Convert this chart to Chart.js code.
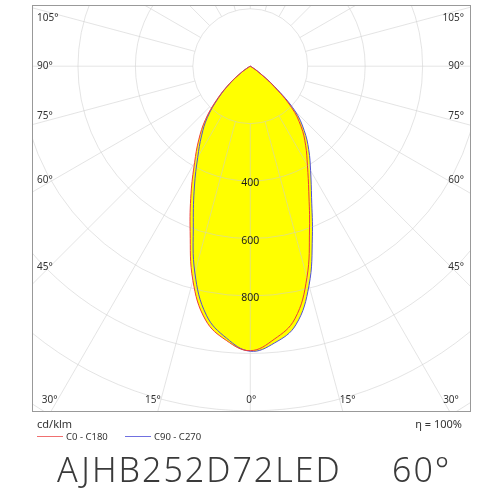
<!DOCTYPE html>
<html>
<head>
<meta charset="utf-8">
<script src="https://cdn.jsdelivr.net/npm/chart.js@4.4.0/dist/chart.umd.min.js"></script>
<style>
  html, body { margin: 0; padding: 0; background: #fff; }
  #wrap { width: 500px; height: 500px; }
</style>
</head>
<body>
<div id="wrap"><canvas id="chart"></canvas></div>
<script>
// gamma angles, degrees from nadir
var gammaAngles = [0, 5, 10, 15, 20, 25, 30, 35, 40, 45, 50, 55, 60, 65, 70, 75, 80, 85, 90];
// intensities in cd/klm for each half plane
var c0   = [990, 954, 893, 762, 603, 482, 398, 336, 276, 203, 102, 32, 5, 0, 0, 0, 0, 0, 0];
var c180 = [990, 958, 897, 772, 612, 488, 388, 313, 243, 165, 95, 38, 8, 0, 0, 0, 0, 0, 0];
var c90  = [995, 967, 914, 790, 632, 505, 420, 355, 292, 220, 110, 35, 6, 0, 0, 0, 0, 0, 0];
var c270 = [992, 950, 880, 745, 580, 460, 366, 296, 232, 158, 90, 36, 8, 0, 0, 0, 0, 0, 0];

// grid rings and the ones that carry a label
var ringValues = [200, 400, 600, 800, 1000, 1200, 1400, 1600];
var ringLabels = [400, 600, 800];
// angle labels
var sideLabelAngles = [45, 60, 75, 90, 105];
var bottomLabelAngles = [0, 15, 30];

var unit = "cd/klm";
var efficiency = "\u03B7 = 100%";
var seriesNames = ["C0 - C180", "C90 - C270"];
var title = "AJHB252D72LED";
var beamAngle = "60\u00B0";

var rad = Math.PI / 180;

// left half plane goes down from 90 to 0, right half plane comes back up
function curve(leftVals, rightVals) {
  var pts = [];
  for (var i = gammaAngles.length - 1; i >= 0; i--) {
    pts.push({ x: -leftVals[i] * Math.sin(gammaAngles[i] * rad), y: -leftVals[i] * Math.cos(gammaAngles[i] * rad) });
  }
  for (var j = 1; j < gammaAngles.length; j++) {
    pts.push({ x: rightVals[j] * Math.sin(gammaAngles[j] * rad), y: -rightVals[j] * Math.cos(gammaAngles[j] * rad) });
  }
  return pts;
}

var polarGrid = {
  id: "polarGrid",
  beforeDatasetsDraw: function (chart) {
    var ctx = chart.ctx, a = chart.chartArea;
    var xs = chart.scales.x, ys = chart.scales.y;
    var cx = xs.getPixelForValue(0), cy = ys.getPixelForValue(0);
    var k = xs.getPixelForValue(1000) - cx;
    ctx.save();
    ctx.beginPath();
    ctx.rect(a.left, a.top, a.right - a.left, a.bottom - a.top);
    ctx.clip();
    ctx.strokeStyle = "rgba(205,205,205,0.55)";
    ctx.lineWidth = 1;
    ringValues.forEach(function (v) {
      ctx.beginPath();
      ctx.arc(cx, cy, v * k / 1000, 0, Math.PI * 2);
      ctx.stroke();
    });
    var r0 = ringValues[0] * k / 1000, r1 = 2000 * k / 1000;
    for (var g = 0; g < 360; g += 15) {
      var s = Math.sin(g * rad), c = Math.cos(g * rad);
      ctx.beginPath();
      ctx.moveTo(cx + s * r0, cy + c * r0);
      ctx.lineTo(cx + s * r1, cy + c * r1);
      ctx.stroke();
    }
    ctx.restore();
  },
  afterDatasetsDraw: function (chart) {
    var ctx = chart.ctx, a = chart.chartArea;
    var xs = chart.scales.x, ys = chart.scales.y;
    var cx = xs.getPixelForValue(0), cy = ys.getPixelForValue(0);
    var k = xs.getPixelForValue(1000) - cx;
    ctx.save();
    ctx.fillStyle = "#1a1a1a";
    ctx.font = "10.5px 'Noto Sans'";
    ctx.textAlign = "center";
    ctx.textBaseline = "middle";
    ringLabels.forEach(function (v) {
      ctx.fillText(String(v), cx, cy + v * k / 1000 + 2);
    });
    // side labels sit near the spoke, next to the frame
    ctx.fillStyle = "#333";
    ctx.font = "10px 'Noto Sans'";
    sideLabelAngles.forEach(function (g) {
      var dx = cx - (a.left + 12);
      var yy = cy + dx / Math.tan(g * rad);
      if (g > 90) yy += 7; else if (g < 90) yy -= 5;
      ctx.textAlign = "left";
      ctx.fillText(g + "\u00B0", a.left + 5, yy);
      ctx.textAlign = "right";
      ctx.fillText(g + "\u00B0", a.right - 6, yy);
    });
    var yb = a.bottom - 11;
    bottomLabelAngles.forEach(function (g) {
      var off = (yb - cy) * Math.tan(g * rad);
      ctx.textAlign = "center";
      if (g === 0) {
        ctx.fillText("0\u00B0", cx + 1, yb);
        return;
      }
      var xl = Math.max(cx - off - 8, a.left + 15);
      var xr = Math.min(cx + off + 8, a.right - 15);
      ctx.fillText(g + "\u00B0", xl, yb);
      ctx.fillText(g + "\u00B0", xr, yb);
    });
    // frame
    ctx.strokeStyle = "#999";
    ctx.lineWidth = 1;
    ctx.strokeRect(Math.round(a.left) + 0.5, Math.round(a.top) + 0.5, Math.round(a.right - a.left), Math.round(a.bottom - a.top));
    ctx.restore();
  },
  afterDraw: function (chart) {
    var ctx = chart.ctx, a = chart.chartArea;
    ctx.save();
    ctx.fillStyle = "#333";
    ctx.textBaseline = "alphabetic";
    ctx.font = "11px 'Noto Sans'";
    ctx.textAlign = "left";
    ctx.fillText(unit, a.left + 5, a.bottom + 17);
    ctx.textAlign = "right";
    ctx.fillText(efficiency, a.right - 8, a.bottom + 17);
    // legend
    ctx.font = "9.5px 'Noto Sans'";
    ctx.textAlign = "left";
    var colors = ["#f07070", "#7070e0"];
    var lx = [a.left + 5, a.left + 93];
    for (var i = 0; i < 2; i++) {
      ctx.strokeStyle = colors[i];
      ctx.lineWidth = 1;
      ctx.beginPath();
      ctx.moveTo(lx[i], a.bottom + 25.5);
      ctx.lineTo(lx[i] + 26, a.bottom + 25.5);
      ctx.stroke();
      ctx.fillText(seriesNames[i], lx[i] + 29, a.bottom + 29);
    }
    // model name
    ctx.fillStyle = "#3a3a3a";
    ctx.font = "300 34px 'Noto Sans'";
    ctx.letterSpacing = "2px";
    ctx.fillText(title, 57, 482);
    ctx.fillText(beamAngle, 392, 482);
    ctx.restore();
  }
};

var chart = new Chart(document.getElementById("chart"), {
  type: "scatter",
  data: {
    datasets: [
      {
        label: seriesNames[0],
        data: curve(c180, c0),
        showLine: true,
        borderColor: "#ec3b3b",
        borderWidth: 1,
        backgroundColor: "#ffff00",
        fill: "shape",
        pointRadius: 0,
        tension: 0.4
      },
      {
        label: seriesNames[1],
        data: curve(c270, c90),
        showLine: true,
        borderColor: "#5050d8",
        borderWidth: 1,
        backgroundColor: "#ffff00",
        fill: "shape",
        pointRadius: 0,
        tension: 0.4
      }
    ]
  },
  options: {
    responsive: true,
    maintainAspectRatio: false,
    animation: false,
    events: [],
    layout: { padding: { left: 32, top: 5, right: 30, bottom: 89 } },
    scales: {
      x: { type: "linear", min: -760, max: 765, display: false },
      y: { type: "linear", min: -1200, max: 213, display: false }
    },
    plugins: {
      legend: { display: false },
      tooltip: { enabled: false },
      filler: { drawTime: "beforeDatasetsDraw" }
    }
  },
  plugins: [polarGrid]
});
</script>
</body>
</html>
